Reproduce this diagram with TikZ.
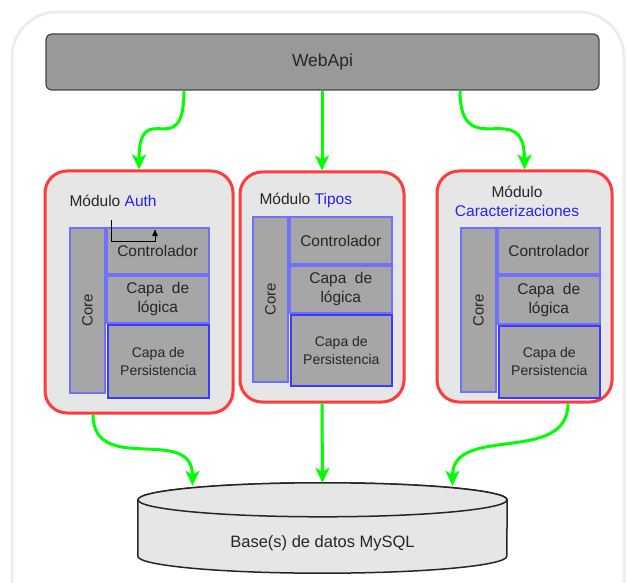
\documentclass[tikz,border=0pt]{standalone}
\usepackage{fontspec}
\setmainfont{Liberation Sans}
\usepackage{xcolor}
\usetikzlibrary{arrows.meta,positioning}
\definecolor{verde}{HTML}{00FF00}
\definecolor{rojo}{HTML}{FF3B3B}
\definecolor{modfondo}{HTML}{E6E6E6}
\definecolor{grisweb}{HTML}{999999}
\definecolor{bordeweb}{HTML}{444444}
\definecolor{griscapa}{HTML}{A6A6A6}
\definecolor{azulcapa}{HTML}{7070FF}
\definecolor{azulfuerte}{HTML}{3B3BFF}
\definecolor{azultexto}{HTML}{2222FF}
\definecolor{marco}{HTML}{EDEDED}
\tikzset{
    webapi-box/.style = {draw=bordeweb, fill=grisweb, line width=1.2pt, rounded corners=6pt, minimum width=553pt, minimum height=56pt, font=\fontsize{17.5}{20}\selectfont, text=black!85},
    modulo-box/.style = {draw=rojo, fill=modfondo, line width=3pt, rounded corners=22pt},
    modulo-title/.style = {font=\fontsize{15.5}{20}\selectfont, text=black!85, align=center},
    core-box/.style = {draw=azulcapa, fill=griscapa, line width=1.8pt, inner sep=0pt, minimum width=35pt, minimum height=165pt, font=\fontsize{15}{18}\selectfont, text=black!85},
    capa-box/.style = {draw=azulcapa, fill=griscapa, line width=1.8pt, inner sep=0pt, align=center, anchor=north west, minimum width=102pt, font=\fontsize{15.5}{19}\selectfont, text=black!85},
    persist-box/.style = {capa-box, draw=azulfuerte, minimum width=101pt, minimum height=73pt, font=\fontsize{14}{18}\selectfont},
    flecha/.style = {draw=verde, line width=3pt, -{Stealth[length=15pt,width=14pt,inset=4pt]}},
    db-line/.style = {draw=black!85, fill=modfondo, line width=1.5pt},
}

\begin{document}
\begin{tikzpicture}[x=1pt,y=-1pt]
\useasboundingbox (0,0) rectangle (627,583);
\clip (0,0) rectangle (627,583);
\draw[marco, line width=3pt, rounded corners=45pt] (12,12) rectangle (624,650);

\node[webapi-box] (webapi) at (322.5,62) {WebApi};

% modulos
\node[modulo-box, minimum width=188pt, minimum height=242pt] (auth) at (139,292) {};
\node[modulo-box, minimum width=164pt, minimum height=230pt] (tipos) at (322,287) {};
\node[modulo-box, minimum width=175pt, minimum height=231pt] (carac) at (524.5,286.5) {};

\node[modulo-title, anchor=west] (auth-title) at (66,201) {Módulo \textcolor{azultexto}{Auth}};
\node[modulo-title, anchor=west] (tipos-title) at (256,200) {Módulo \textcolor{azultexto}{Tipos}};
\node[modulo-title] (carac-title) at (517,201) {Módulo\\[-1pt]\textcolor{azultexto}{Caracterizaciones}};

% capas Auth
\node[core-box] (auth-core) at (87.5,310.5) {\rotatebox{90}{Core}};
\node[capa-box, minimum height=46pt] (auth-ctl) at (auth-core.north east) {Controlador};
\node[capa-box, minimum height=47pt] (auth-log) at (auth-ctl.south west) {Capa\ \ de\\lógica};
\node[persist-box] (auth-per) at ([xshift=1pt]auth-log.south west) {Capa de\\Persistencia};
\draw[black, line width=0.9pt, -{Latex[length=7pt,width=6pt]}] (111,220) -- (111,241) -- (155,241) -- (155,229);

% capas Tipos
\node[core-box] (tipos-core) at (270.5,299.5) {\rotatebox{90}{Core}};
\node[capa-box, minimum height=47pt] (tipos-ctl) at (tipos-core.north east) {Controlador};
\node[capa-box, minimum height=47pt] (tipos-log) at (tipos-ctl.south west) {Capa\ \ de\\lógica};
\node[persist-box, minimum height=71pt] (tipos-per) at ([xshift=1pt]tipos-log.south west) {Capa de\\Persistencia};

% capas Caracterizaciones
\node[core-box, minimum height=164pt] (carac-core) at (478.5,310) {\rotatebox{90}{Core}};
\node[capa-box, minimum height=46pt] (carac-ctl) at (carac-core.north east) {Controlador};
\node[capa-box, minimum height=48pt] (carac-log) at (carac-ctl.south west) {Capa\ \ de\\lógica};
\node[persist-box, minimum height=72pt] (carac-per) at ([xshift=1pt]carac-log.south west) {Capa de\\Persistencia};

% base de datos
\node[minimum width=369pt, minimum height=90pt, inner sep=0pt] (db) at (322.5,528) {};
\path[db-line] ([yshift=-17pt]db.north west) -- ([yshift=17pt]db.south west)
    arc[start angle=180, end angle=360, x radius=184.5pt, y radius=17pt]
    -- ([yshift=-17pt]db.north east)
    arc[start angle=0, end angle=180, x radius=184.5pt, y radius=17pt] -- cycle;
\draw[db-line] ([yshift=-17pt]db.north) ellipse [x radius=184.5pt, y radius=17pt];
\node[font=\fontsize{16.5}{20}\selectfont, text=black!85] (db-texto) at ([yshift=-15pt]db.center) {Base(s) de datos MySQL};

% flechas
\draw[flecha] ([xshift=-138.5pt]webapi.south) .. controls +(0,75) and +(0,-75) .. (auth.north);
\draw[flecha] (webapi.south -| tipos.north) -- (tipos.north);
\draw[flecha] ([xshift=137.5pt]webapi.south) .. controls +(0,75) and +(0,-75) .. (carac.north);
\draw[flecha] ([xshift=-46pt]auth.south) .. controls +(0,62) and +(0,-62) .. ([xshift=-130pt,yshift=-3pt]db.north);
\draw[flecha] (tipos.south) -- (db.north);
\draw[flecha] ([xshift=43.5pt]carac.south) .. controls +(0,62) and +(0,-62) .. ([xshift=130pt,yshift=-3pt]db.north);
\end{tikzpicture}
\end{document}
